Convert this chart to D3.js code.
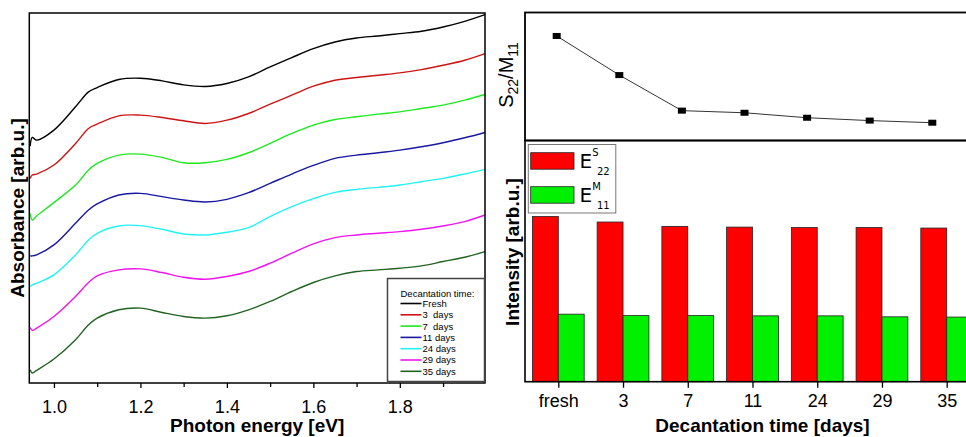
<!DOCTYPE html>
<meta charset="utf-8">
<html lang="en">
<head>
  <title>Absorbance spectra and decantation time</title>
  <script src="https://d3js.org/d3.v7.min.js"></script>
  <style>
    body { margin: 0; background: #fff; }
    svg text { font-family: "Liberation Sans", Arial, sans-serif; fill: #000; }
  </style>
</head>
<body>
<div id="chart"></div>
<script>
// ---- data ----
// photon energy grid (eV) shared by all spectra
var energy = [0.945, 0.95, 0.96, 1.0, 1.05, 1.08, 1.1, 1.15, 1.2, 1.25, 1.3, 1.35, 1.4,
              1.45, 1.5, 1.55, 1.6, 1.65, 1.7, 1.75, 1.8, 1.85, 1.9, 1.95, 1.997];

// absorbance (arb.u., curves are offset vertically)
var absFresh = [7.12, 7.38, 7.30, 7.60, 8.30, 8.75, 8.88, 9.12, 9.16, 9.08, 8.96, 8.91, 9.00,
                9.20, 9.50, 9.78, 10.05, 10.25, 10.37, 10.43, 10.50, 10.57, 10.70, 10.87, 11.07];
var abs3d    = [6.15, 6.25, 6.28, 6.55, 7.20, 7.65, 7.78, 8.03, 8.05, 7.98, 7.88, 7.80, 7.90,
                8.10, 8.38, 8.65, 8.92, 9.10, 9.18, 9.25, 9.32, 9.42, 9.55, 9.70, 9.90];
var abs7d    = [5.10, 4.90, 5.02, 5.42, 5.95, 6.40, 6.60, 6.85, 6.88, 6.78, 6.62, 6.62, 6.72,
                6.92, 7.20, 7.50, 7.75, 7.92, 8.00, 8.08, 8.15, 8.25, 8.35, 8.50, 8.67];
var abs11d   = [3.82, 3.82, 3.85, 4.15, 4.80, 5.20, 5.38, 5.65, 5.70, 5.60, 5.50, 5.44, 5.52,
                5.72, 6.00, 6.28, 6.54, 6.75, 6.85, 6.92, 7.00, 7.10, 7.22, 7.37, 7.53];
var abs24d   = [2.90, 2.95, 3.00, 3.25, 3.85, 4.30, 4.50, 4.72, 4.73, 4.62, 4.48, 4.45, 4.53,
                4.67, 5.00, 5.30, 5.54, 5.73, 5.82, 5.88, 5.95, 6.05, 6.15, 6.28, 6.42];
var abs29d   = [1.67, 1.58, 1.65, 2.00, 2.60, 3.02, 3.22, 3.40, 3.43, 3.32, 3.18, 3.12, 3.20,
                3.35, 3.60, 3.90, 4.18, 4.37, 4.45, 4.50, 4.55, 4.62, 4.72, 4.85, 5.05];
var abs35d   = [0.40, 0.30, 0.38, 0.72, 1.30, 1.75, 1.95, 2.20, 2.25, 2.12, 2.00, 1.95, 2.02,
                2.20, 2.45, 2.75, 3.02, 3.22, 3.35, 3.40, 3.45, 3.52, 3.65, 3.78, 3.95];

var seriesNames = ["Fresh", "3  days", "7  days", "11 days", "24 days", "29 days", "35 days"];
var energyTicks = [1.0, 1.2, 1.4, 1.6, 1.8];
var energyMinorTicks = [1.1, 1.3, 1.5, 1.7, 1.9];

// right panels
var decantDays = ["fresh", "3", "7", "11", "24", "29", "35"];
var ratioS22M11 = [2.447, 2.392, 2.342, 2.339, 2.332, 2.328, 2.325];
var intensityS22 = [68.5, 66.2, 64.4, 64.1, 63.9, 63.9, 63.7];
var intensityM11 = [28.0, 27.4, 27.4, 27.3, 27.3, 26.9, 26.8];

// styles
var curveColors = ["#000000", "#cc1414", "#1ee81e", "#1818a0", "#22f2f2", "#ee14ee", "#226322"];

var allSpectra = [absFresh, abs3d, abs7d, abs11d, abs24d, abs29d, abs35d];

var svg = d3.select("#chart").append("svg")
  .attr("width", 966)
  .attr("height", 437);

// ================= left panel: absorbance spectra =================
var L = {left: 29.3, right: 485, top: 13, bottom: 383};

var x = d3.scaleLinear().domain([0.943, 1.997]).range([L.left, L.right]);
var y = d3.scaleLinear().domain([0, 11.12]).range([L.bottom, L.top]);

var line = d3.line()
  .x(function(d, i) { return x(energy[i]); })
  .y(function(d) { return y(d); })
  .curve(d3.curveCatmullRom.alpha(0.5));

var left = svg.append("g");

left.selectAll(".spec")
  .data(allSpectra)
  .enter()
  .append("path")
    .attr("class", "spec")
    .attr("d", line)
    .attr("fill", "none")
    .attr("stroke", function(d, i) { return curveColors[i]; })
    .attr("stroke-width", 1.4);

// frame
left.append("rect")
  .attr("x", L.left).attr("y", L.top)
  .attr("width", L.right - L.left).attr("height", L.bottom - L.top)
  .attr("fill", "none").attr("stroke", "#000").attr("stroke-width", 1.5);

// x axis
var xAxis = left.append("g")
  .attr("transform", "translate(0," + L.bottom + ")")
  .call(d3.axisBottom(x).tickValues(energyTicks).tickFormat(d3.format(".1f"))
        .tickSize(5).tickPadding(12));
xAxis.select(".domain").remove();
xAxis.selectAll("line").attr("stroke-width", 1.3);
xAxis.selectAll("text").style("font-size", "18px");

var xMinor = left.append("g")
  .attr("transform", "translate(0," + L.bottom + ")")
  .call(d3.axisBottom(x).tickValues(energyMinorTicks).tickFormat("").tickSize(4));
xMinor.select(".domain").remove();
xMinor.selectAll("line").attr("stroke-width", 1.3);

left.append("text")
  .attr("x", (L.left + L.right) / 2)
  .attr("y", 432)
  .attr("text-anchor", "middle")
  .style("font-size", "19px")
  .style("font-weight", "bold")
  .text("Photon energy [eV]");

left.append("text")
  .attr("transform", "translate(24,208) rotate(-90)")
  .attr("text-anchor", "middle")
  .style("font-size", "19px")
  .style("font-weight", "bold")
  .text("Absorbance [arb.u.]");

// legend
var lg = left.append("g");
lg.append("rect")
  .attr("x", 387.5).attr("y", 278.5)
  .attr("width", 97).attr("height", 103)
  .attr("fill", "#fff").attr("stroke", "#444").attr("stroke-width", 1.5);
lg.append("text")
  .attr("x", 400.5).attr("y", 297)
  .style("font-size", "9.5px")
  .text("Decantation time:");
var entry = lg.selectAll(".entry")
  .data(seriesNames)
  .enter()
  .append("g")
    .attr("class", "entry")
    .attr("transform", function(d, i) { return "translate(0," + (303.5 + i * 11.3) + ")"; });
entry.append("line")
  .attr("x1", 400.5).attr("x2", 421.5)
  .attr("stroke", function(d, i) { return curveColors[i]; })
  .attr("stroke-width", 1.6);
entry.append("text")
  .attr("x", 422.5).attr("y", 3.4)
  .style("font-size", "9.5px")
  .style("white-space", "pre")
  .text(function(d) { return d; });

// ================= right top: S22/M11 ratio =================
var T = {left: 525, right: 975, top: 12.5, bottom: 140.5};
var xr = d3.scalePoint().domain(decantDays).range([556.7, 932.3]);
var yr = d3.scaleLinear().domain([2.30, 2.48]).range([T.bottom, T.top]);

var ratioPanel = svg.append("g");
ratioPanel.append("rect")
  .attr("x", T.left).attr("y", T.top)
  .attr("width", T.right - T.left).attr("height", T.bottom - T.top)
  .attr("fill", "none").attr("stroke", "#000").attr("stroke-width", 1.8);

ratioPanel.append("path")
  .datum(ratioS22M11)
  .attr("d", d3.line()
    .x(function(d, i) { return xr(decantDays[i]); })
    .y(function(d) { return yr(d); }))
  .attr("fill", "none")
  .attr("stroke", "#333")
  .attr("stroke-width", 1);

ratioPanel.selectAll(".mk")
  .data(ratioS22M11)
  .enter()
  .append("rect")
    .attr("class", "mk")
    .attr("x", function(d, i) { return xr(decantDays[i]) - 4; })
    .attr("y", function(d) { return yr(d) - 3; })
    .attr("width", 8).attr("height", 6)
    .attr("fill", "#000");

var ratioLabel = ratioPanel.append("text")
  .attr("transform", "translate(512.5,75) rotate(-90)")
  .attr("text-anchor", "middle")
  .style("font-size", "20px");
ratioLabel.append("tspan").text("S");
ratioLabel.append("tspan").attr("dy", 5).style("font-size", "14px").text("22");
ratioLabel.append("tspan").attr("dy", -5).text("/M");
ratioLabel.append("tspan").attr("dy", 5).style("font-size", "14px").text("11");

// ================= right bottom: intensities =================
var B = {left: 525, right: 975, top: 140.5, bottom: 381.7};
var xb = d3.scalePoint().domain(decantDays).range([558.3, 946.7]);
var barW = xb.step() * 0.4;
var yb = d3.scaleLinear().domain([0, 100]).range([B.bottom, B.top]);

var bot = svg.append("g");

bot.selectAll(".barS")
  .data(intensityS22)
  .enter()
  .append("rect")
    .attr("class", "barS")
    .attr("x", function(d, i) { return xb(decantDays[i]) - barW; })
    .attr("y", function(d) { return yb(d); })
    .attr("width", barW)
    .attr("height", function(d) { return B.bottom - yb(d); })
    .attr("fill", "#ff0000")
    .attr("stroke", "#222").attr("stroke-width", 0.8);

bot.selectAll(".barM")
  .data(intensityM11)
  .enter()
  .append("rect")
    .attr("class", "barM")
    .attr("x", function(d, i) { return xb(decantDays[i]); })
    .attr("y", function(d) { return yb(d); })
    .attr("width", barW)
    .attr("height", function(d) { return B.bottom - yb(d); })
    .attr("fill", "#00f000")
    .attr("stroke", "#222").attr("stroke-width", 0.8);

bot.append("rect")
  .attr("x", B.left).attr("y", B.top)
  .attr("width", B.right - B.left).attr("height", B.bottom - B.top)
  .attr("fill", "none").attr("stroke", "#000").attr("stroke-width", 1.6);

var xbAxis = bot.append("g")
  .attr("transform", "translate(0," + B.bottom + ")")
  .call(d3.axisBottom(xb).tickSize(6).tickPadding(7));
xbAxis.select(".domain").remove();
xbAxis.selectAll("line").attr("stroke-width", 1.3);
xbAxis.selectAll("text").style("font-size", "18px");

bot.append("text")
  .attr("x", 762.5)
  .attr("y", 432)
  .attr("text-anchor", "middle")
  .style("font-size", "19px")
  .style("font-weight", "bold")
  .text("Decantation time [days]");

bot.append("text")
  .attr("transform", "translate(519,252) rotate(-90)")
  .attr("text-anchor", "middle")
  .style("font-size", "19px")
  .style("font-weight", "bold")
  .text("Intensity [arb.u.]");

// bar legend
var bl = bot.append("g");
bl.append("rect")
  .attr("x", 528.3).attr("y", 144.5)
  .attr("width", 87.5).attr("height", 68.5)
  .attr("fill", "#fff").attr("stroke", "#777").attr("stroke-width", 1);
var legendItems = [
  {fill: "#ff0000", sup: "S", sub: "22", y: 152.7},
  {fill: "#00f000", sup: "M", sub: "11", y: 186.7}
];
legendItems.forEach(function(it) {
  bl.append("rect")
    .attr("x", 530.7).attr("y", it.y)
    .attr("width", 43.3).attr("height", 16.5)
    .attr("fill", it.fill).attr("stroke", "#222").attr("stroke-width", 0.8);
  var t = bl.append("text")
    .attr("x", 579.5).attr("y", it.y + 15.5)
    .style("font-size", "20px")
    .style("font-family", "'DejaVu Sans', sans-serif");
  t.append("tspan").text("E");
  t.append("tspan").attr("dy", -12).style("font-size", "10px").text(it.sup);
  t.append("tspan").attr("x", 597).attr("dy", 19).style("font-size", "10px").text(it.sub);
});
</script>
</body>
</html>
